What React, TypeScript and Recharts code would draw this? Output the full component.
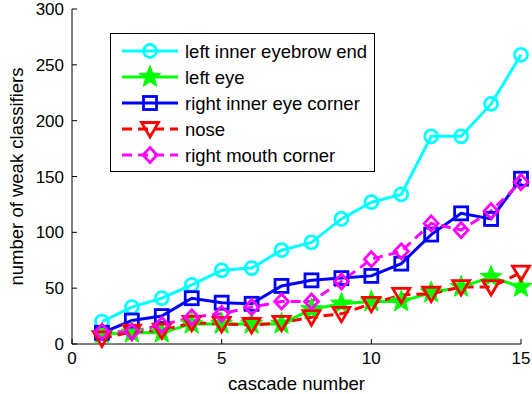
import React from "react";
import { LineChart, Line, XAxis, YAxis, Label } from "recharts";

const cascade = [1, 2, 3, 4, 5, 6, 7, 8, 9, 10, 11, 12, 13, 14, 15];
const eyebrowEnd = [20, 33, 41, 53, 66, 68, 84, 91, 112, 127, 134, 186, 186, 215, 259];
const leftEye = [9, 10, 10, 18, 18, 18, 18, 31, 36, 38, 38, 46, 51, 60, 51];
const innerEyeCorner = [10, 21, 25, 41, 37, 36, 52, 57, 59, 61, 72, 98, 117, 112, 148];
const nose = [5, 11, 12, 19, 18, 17, 19, 24, 27, 36, 44, 45, 51, 51, 64];
const mouthCorner = [11, 11, 17, 24, 27, 33, 38, 38, 56, 76, 83, 108, 102, 119, 145];

const xTicks = [0, 5, 10, 15];
const yTicks = [0, 50, 100, 150, 200, 250, 300];

const series = [
  { key: "eyebrow", name: "left inner eyebrow end", color: "#00ffff", marker: "circle", dash: undefined as string | undefined, values: eyebrowEnd },
  { key: "leftEye", name: "left eye", color: "#00ff00", marker: "star", dash: undefined, values: leftEye },
  { key: "innerEye", name: "right inner eye corner", color: "#0000ff", marker: "square", dash: undefined, values: innerEyeCorner },
  { key: "nose", name: "nose", color: "#ff0000", marker: "triangle", dash: "10 6", values: nose },
  { key: "mouth", name: "right mouth corner", color: "#ff00ff", marker: "diamond", dash: "10 6", values: mouthCorner },
];

const data = cascade.map((c, i) => {
  const row: any = { cascade: c };
  series.forEach((s) => (row[s.key] = s.values[i]));
  return row;
});

const FONT = '"Liberation Sans", Arial, Helvetica, sans-serif';

const starPoints = (cx: number, cy: number, R: number, r: number) => {
  const pts: string[] = [];
  for (let k = 0; k < 10; k++) {
    const a = -Math.PI / 2 + (k * Math.PI) / 5;
    const rad = k % 2 === 0 ? R : r;
    pts.push(`${cx + rad * Math.cos(a)},${cy + rad * Math.sin(a)}`);
  }
  return pts.join(" ");
};

const Marker = ({ kind, cx, cy, color }: any) => {
  if (cx == null || cy == null) return null;
  const sw = 2.8;
  switch (kind) {
    case "circle":
      return <circle cx={cx} cy={cy} r={6.5} fill="none" stroke={color} strokeWidth={sw} />;
    case "star":
      return <polygon points={starPoints(cx, cy, 11.5, 4.8)} fill={color} stroke={color} strokeWidth={1} />;
    case "square":
      return <rect x={cx - 6.5} y={cy - 6.5} width={13} height={13} fill="none" stroke={color} strokeWidth={sw} />;
    case "triangle":
      return <polygon points={`${cx - 8.5},${cy - 6.5} ${cx + 8.5},${cy - 6.5} ${cx},${cy + 8}`} fill="none" stroke={color} strokeWidth={sw} />;
    case "diamond":
      return <polygon points={`${cx},${cy - 7.5} ${cx + 7},${cy} ${cx},${cy + 7.5} ${cx - 7},${cy}`} fill="none" stroke={color} strokeWidth={sw} />;
    default:
      return null;
  }
};

const BottomTick = (p: any) => (
  <g>
    <line x1={p.x} x2={p.x} y1={p.y} y2={p.y - 5} stroke="#000" />
    <text x={p.x} y={p.y + 20} textAnchor="middle" fontSize={17} fontFamily={FONT} fill="#000">{p.payload.value}</text>
  </g>
);
const TopTick = (p: any) => <line x1={p.x} x2={p.x} y1={p.y} y2={p.y + 5} stroke="#000" />;
const LeftTick = (p: any) => (
  <g>
    <line x1={p.x} x2={p.x + 5} y1={p.y} y2={p.y} stroke="#000" />
    <text x={p.x - 8} y={p.y + 6} textAnchor="end" fontSize={17} fontFamily={FONT} fill="#000">{p.payload.value}</text>
  </g>
);
const RightTick = (p: any) => <line x1={p.x} x2={p.x - 5} y1={p.y} y2={p.y} stroke="#000" />;

const XTitle = ({ viewBox }: any) => (
  <text x={viewBox.x + viewBox.width / 2} y={viewBox.y + 46} textAnchor="middle" fontSize={18.5} fontFamily={FONT} fill="#000">
    cascade number
  </text>
);
const YTitle = ({ viewBox }: any) => (
  <text transform={`translate(${viewBox.x + 23},${viewBox.y + viewBox.height / 2}) rotate(-90)`} textAnchor="middle" fontSize={18.5} fontFamily={FONT} fill="#000">
    number of weak classifiers
  </text>
);

export default function App() {
  return (
    <div style={{ position: "absolute", left: 0, top: 0, width: 532, height: 394, background: "#fff" }}>
      <LineChart width={532} height={394} data={data} margin={{ top: 9, right: 11, bottom: 0, left: 0 }}>
        <XAxis xAxisId="b" dataKey="cascade" type="number" domain={[0, 15]} ticks={xTicks} height={50}
          stroke="#000" tickLine={false} tickSize={0} tickMargin={0} tick={<BottomTick />} interval={0}>
          <Label content={<XTitle />} />
        </XAxis>
        <XAxis xAxisId="t" orientation="top" type="number" domain={[0, 15]} ticks={xTicks} height={0}
          stroke="#000" tickLine={false} tickSize={0} tickMargin={0} tick={<TopTick />} interval={0} />
        <YAxis yAxisId="l" type="number" domain={[0, 300]} ticks={yTicks} width={72}
          stroke="#000" tickLine={false} tickSize={0} tickMargin={0} tick={<LeftTick />} interval={0}>
          <Label content={<YTitle />} />
        </YAxis>
        <YAxis yAxisId="r" orientation="right" type="number" domain={[0, 300]} ticks={yTicks} width={0}
          stroke="#000" tickLine={false} tickSize={0} tickMargin={0} tick={<RightTick />} interval={0} />
        {series.map((s) => (
          <Line key={s.key} xAxisId="b" yAxisId="l" type="linear" dataKey={s.key} name={s.name}
            stroke={s.color} strokeWidth={3} strokeDasharray={s.dash} isAnimationActive={false}
            dot={(p: any) => <Marker key={`${s.key}-${p.index}`} kind={s.marker} cx={p.cx} cy={p.cy} color={s.color} />}
            activeDot={false} />
        ))}
      </LineChart>
      <svg style={{ position: "absolute", left: 110, top: 33 }} width={265} height={139}>
        <rect x={0.5} y={0.5} width={264} height={138} fill="#fff" stroke="#000" strokeWidth={1} />
        {series.map((s, i) => {
          const y = 18 + i * 26;
          return (
            <g key={s.key}>
              <line x1={12} x2={68} y1={y} y2={y} stroke={s.color} strokeWidth={3} strokeDasharray={s.dash} />
              <Marker kind={s.marker} cx={40} cy={y} color={s.color} />
              <text x={75} y={y + 6.5} fontSize={18.5} fontFamily={FONT} fill="#000">{s.name}</text>
            </g>
          );
        })}
      </svg>
    </div>
  );
}
